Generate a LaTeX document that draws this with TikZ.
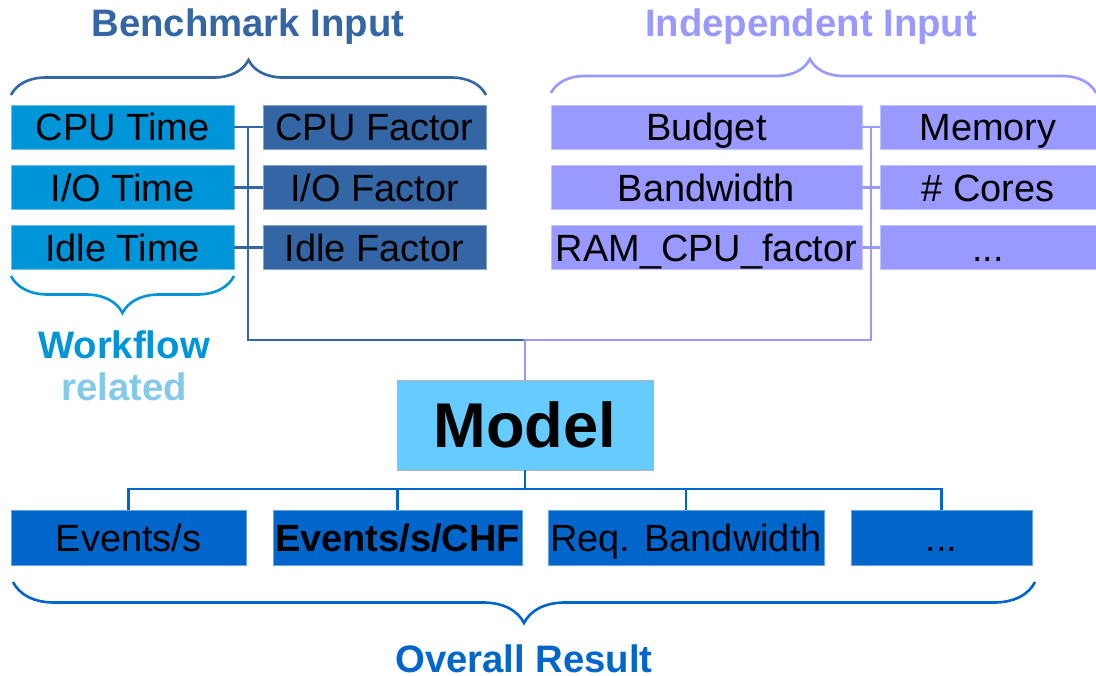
\documentclass[tikz,border=0pt]{standalone}
\usepackage{fontspec}
\setmainfont{Liberation Sans}
\usepackage{tikz}
\usetikzlibrary{decorations.pathreplacing}
\definecolor{timeblue}{HTML}{0095D9}
\definecolor{benchblue}{HTML}{3465A4}
\definecolor{indepviolet}{HTML}{9999FF}
\definecolor{modelcyan}{HTML}{66CCFF}
\definecolor{resultblue}{HTML}{0066CC}
\definecolor{relatedblue}{HTML}{83C9EA}

\begin{document}
\begin{tikzpicture}[x=0.02cm, y=-0.02cm,
		box/.style={inner sep=0pt, font=\fontsize{21.6}{25}\selectfont, text height=15.5pt, text depth=0pt,
			minimum height=0.88cm, text=black},
		timebox/.style={box, fill=timeblue, draw=timeblue!60!white, line width=0.4pt, minimum width=4.46cm},
		factorbox/.style={box, fill=benchblue, draw=benchblue!60!white, line width=0.4pt, minimum width=4.46cm},
		indepbox/.style={box, fill=indepviolet, draw=indepviolet!60!white, line width=0.4pt},
		resbox/.style={box, fill=resultblue, draw=resultblue!60!white, line width=0.4pt, minimum height=1.1cm},
		heading/.style={inner sep=0pt, font=\fontsize{21.8}{25}\selectfont\bfseries},
		benchline/.style={draw=benchblue, line width=1.6pt},
		indepline/.style={draw=indepviolet, line width=1.6pt},
		resline/.style={draw=resultblue, line width=1.6pt},
		curly/.style={decorate, line width=1.5pt, decoration={brace, amplitude=#1}}
	]
	\useasboundingbox (0,0) rectangle (1096,676);
	\node[timebox] (cpu) at (122.5,127) {CPU Time};
	\node[timebox] (io) at (122.5,187.5) {I/O Time};
	\node[timebox] (idle) at (122.5,247.5) {Idle Time};
	\node[factorbox] (cpuf) at (374.5,127) {CPU Factor};
	\node[factorbox] (iof) at (374.5,187.5) {I/O Factor};
	\node[factorbox] (idlef) at (374.5,247.5) {Idle Factor};
	\node[indepbox, minimum width=6.22cm] (budget) at (706.5,127) {Budget};
	\node[indepbox, minimum width=6.22cm] (bandw) at (706.5,187.5) {Bandwidth};
	\node[indepbox, minimum width=6.22cm] (ramcpu) at (706.5,247.5) {RAM\_CPU\_factor};
	\node[indepbox, minimum width=4.32cm] (memory) at (988,127) {Memory};
	\node[indepbox, minimum width=4.32cm] (cores) at (988,187.5) {\# Cores};
	\node[indepbox, minimum width=4.32cm] (moreinp) at (988,247.5) {...};
	\node[box, fill=modelcyan, draw=gray!60, line width=0.5pt, minimum width=5.12cm, minimum height=1.8cm,
		text height=26pt, text depth=0pt, font=\fontsize{36}{40}\selectfont\bfseries] (model) at (525,425) {Model};
	\node[resbox, minimum width=4.7cm] (evs) at (128.5,537.5) {Events/s};
	\node[resbox, minimum width=4.98cm, font=\fontsize{21.6}{25}\selectfont\bfseries] (evchf) at (397.5,537.5) {Events/s/CHF};
	\node[resbox, minimum width=5.52cm] (reqbw) at (686,537.5) {Req. Bandwidth};
	\node[resbox, minimum width=3.62cm] (moreres) at (941.5,537.5) {...};

	\node[heading, text=benchblue] (benchtitle) at (248,27) {Benchmark Input};
	\node[heading, text=indepviolet] (indeptitle) at (811,27) {Independent Input};
	\node[heading, text=timeblue] (wftitle) at (124,345) {Workflow};
	\node[heading, text=relatedblue] (reltitle) at (124,387) {related};
	\node[heading, text=resultblue] (restitle) at (524,659) {Overall Result};

	\coordinate (benchtop) at (248,127);
	\coordinate (indeptop) at (871,127);
	\coordinate (join) at (525,340);
	\coordinate (outjoin) at (525,489);
	\foreach \a/\b in {cpu/cpuf, io/iof, idle/idlef}
		\draw[benchline] (\a.east) -- (\b.west);
	\foreach \a/\b in {budget/memory, bandw/cores, ramcpu/moreinp}
		\draw[indepline] (\a.east) -- (\b.west);
	\draw[benchline] (benchtop) |- (join);
	\draw[indepline] (indeptop) |- (join) -- (model.north);
	\draw[resline] (model.south) -- (outjoin);
	\foreach \n in {evs, evchf, reqbw, moreres}
		\draw[resline] (outjoin) -| (\n.north);

	\draw[curly=0.7cm, benchblue] (11,95) -- (486,95);
	\draw[curly=0.68cm, indepviolet, decoration={aspect=0.475}] (551,93) -- (1096,93);
	\draw[curly=0.74cm, timeblue, decoration={mirror}] (11,276) -- (234,276);
	\draw[curly=0.82cm, resultblue, decoration={mirror}] (13,582) -- (1035,582);
\end{tikzpicture}
\end{document}
